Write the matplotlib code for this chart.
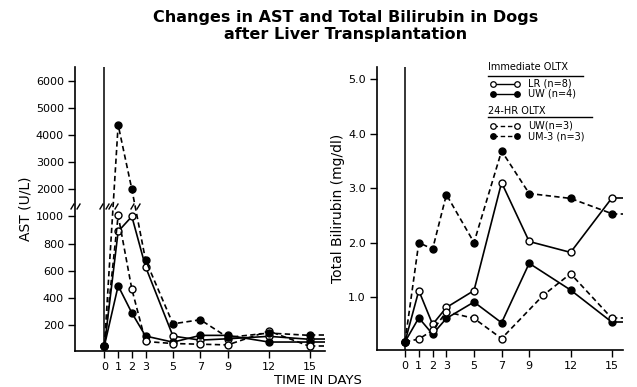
import numpy as np
import matplotlib
matplotlib.use("Agg")
import matplotlib.pyplot as plt
from matplotlib.path import Path
from matplotlib.lines import Line2D

# ---------------- data ----------------
days = [0, 1, 2, 3, 5, 7, 9, 12, 15]
day_ticks = [0, 1, 2, 3, 5, 7, 9, 12, 15]

# AST (U/L)
ast_lr = [50, 890, 1000, 630, 120, 90, 100, 118, 96]
ast_uw_imm = [50, 490, 290, 120, 75, 125, 125, 76, 76]
ast_uw_24 = [50, 1040, 465, 80, 65, 60, 55, 157, 44]
ast_um3_24 = [50, 4370, 2000, 680, 210, 240, 110, 142, 125]
ast_ticks = [200, 400, 600, 800, 1000, 2000, 3000, 4000, 5000, 6000]
ast_break = 1400

# Total bilirubin (mg/dl)
bili_lr = [0.18, 1.12, 0.50, 0.81, 1.12, 3.10, 2.02, 1.82, 2.82]
bili_uw_imm = [0.18, 0.62, 0.32, 0.61, 0.91, 0.53, 1.62, 1.13, 0.54]
days_uw24_bili = [0, 1, 2, 3, 5, 7, 10, 12, 15]
bili_uw_24 = [0.18, 0.23, 0.39, 0.73, 0.61, 0.24, 1.03, 1.43, 0.61]
bili_um3_24 = [0.18, 2.00, 1.88, 2.88, 2.00, 3.68, 2.90, 2.81, 2.53]
bili_ticks = [1.0, 2.0, 3.0, 4.0, 5.0]

legend_groups = [("Immediate OLTX", ["LR (n=8)", "UW (n=4)"]),
                 ("24-HR OLTX", ["UW(n=3)", "UM-3 (n=3)"])]

# ---------------- style ----------------
plt.rcParams["font.family"] = ["DejaVu Sans"]
DASH = (0, (3.2, 2.0))
styles = {
    "lr": dict(ls="-", mfc="white"),
    "uw_imm": dict(ls="-", mfc="black"),
    "uw_24": dict(ls=DASH, mfc="white"),
    "um3_24": dict(ls=DASH, mfc="black"),
}
common = dict(color="black", lw=1.2, marker="o", ms=5, mec="black", mew=1.0, zorder=3)

fig = plt.figure(figsize=(6.37, 3.87), dpi=100)


def fwd(v):
    v = np.asarray(v, dtype=float)
    return np.where(v <= 1000, v, 1000 + (v - 1000) / 5.0)


def inv(u):
    u = np.asarray(u, dtype=float)
    return np.where(u <= 1000, u, 1000 + (u - 1000) * 5.0)


def style_axes(ax):
    for s in ("top", "right"):
        ax.spines[s].set_visible(False)
    for s in ("left", "bottom"):
        ax.spines[s].set_linewidth(1.2)
    ax.tick_params(direction="out", length=5, width=1.0, labelsize=8, pad=3)
    ax.set_xticks(day_ticks)
    ax.set_xticklabels([str(d) for d in day_ticks])
    ax.axvline(0, color="black", lw=1.1, zorder=2)


def draw_series(ax, x, y, key):
    st = styles[key]
    ax.plot(x, y, linestyle=st["ls"], mfc=st["mfc"], **common)
    xmax = ax.get_xlim()[1]
    ax.hlines(y[-1], x[-1], xmax, colors="black", lw=1.2, linestyles=st["ls"], zorder=2)


break_marker = Path([(-1.6, -1.0), (-0.4, 1.0), (0.4, -1.0), (1.6, 1.0)],
                    [Path.MOVETO, Path.LINETO, Path.MOVETO, Path.LINETO])

# ---------------- left panel: AST ----------------
axL = fig.add_axes([75 / 637, 1 - 351 / 387, 250 / 637, 284 / 387])
axL.set_yscale("function", functions=(fwd, inv))
axL.set_xlim(-2.15, 16.1)
axL.set_ylim(10, 6500)
style_axes(axL)
axL.set_yticks(ast_ticks)
axL.set_yticklabels([str(t) for t in ast_ticks])
axL.minorticks_off()

draw_series(axL, days, ast_lr, "lr")
draw_series(axL, days, ast_uw_imm, "uw_imm")
draw_series(axL, days, ast_uw_24, "uw_24")
draw_series(axL, days, ast_um3_24, "um3_24")

# axis-break marks
bx = [axL.get_xlim()[0], 0]
tb = float(fwd(ast_break))
tu = fwd(ast_um3_24)
for i in range(len(days) - 1):
    a, b = tu[i], tu[i + 1]
    if (a - tb) * (b - tb) < 0:
        f = (tb - a) / (b - a)
        bx.append(days[i] + f * (days[i + 1] - days[i]))
axL.plot(bx, [ast_break] * len(bx), linestyle="none", marker=break_marker,
         ms=7, mew=1.0, color="black", clip_on=False, zorder=5)

axL.set_ylabel("AST (U/L)", fontsize=10, labelpad=2)

# ---------------- right panel: bilirubin ----------------
axR = fig.add_axes([377 / 637, 1 - 350 / 387, 246 / 637, 283 / 387])
axR.set_xlim(-2.03, 15.8)
axR.set_ylim(0.03, 5.22)
style_axes(axR)
axR.set_yticks(bili_ticks)
axR.set_yticklabels([f"{t:.1f}" for t in bili_ticks])

draw_series(axR, days, bili_lr, "lr")
draw_series(axR, days, bili_uw_imm, "uw_imm")
draw_series(axR, days_uw24_bili, bili_uw_24, "uw_24")
draw_series(axR, days, bili_um3_24, "um3_24")

axR.set_ylabel("Total Bilirubin (mg/dl)", fontsize=10, labelpad=2)

# legend (manual, grouped)
keys = [["lr", "uw_imm"], ["uw_24", "um3_24"]]
hdr_y = [1.0, 0.845]
line_y = [0.969, 0.823]
line_x2 = [0.837, 0.874]
row_y = [[0.940, 0.905], [0.792, 0.756]]
for g, (hdr, labels) in enumerate(legend_groups):
    axR.text(0.451, hdr_y[g], hdr, transform=axR.transAxes, fontsize=7,
             ha="left", va="center")
    axR.add_line(Line2D([0.451, line_x2[g]], [line_y[g]] * 2, transform=axR.transAxes,
                        color="black", lw=1.0))
    for j, lab in enumerate(labels):
        st = styles[keys[g][j]]
        axR.add_line(Line2D([0.472, 0.569], [row_y[g][j]] * 2, transform=axR.transAxes,
                            color="black", lw=1.0, ls=st["ls"], marker="o", ms=4,
                            mfc=st["mfc"], mec="black", mew=0.9))
        axR.text(0.614, row_y[g][j], lab, transform=axR.transAxes, fontsize=7,
                 ha="left", va="center")

# ---------------- titles ----------------
fig.text(0.543, 1 - 26 / 387, "Changes in AST and Total Bilirubin in Dogs\nafter Liver Transplantation",
         ha="center", va="center", fontsize=11.5, fontweight="bold", linespacing=1.1)
fig.text(318 / 637, 1 - 381 / 387, "TIME IN DAYS", ha="center", va="center", fontsize=9.5)

fig.savefig("out.png", dpi=100)
